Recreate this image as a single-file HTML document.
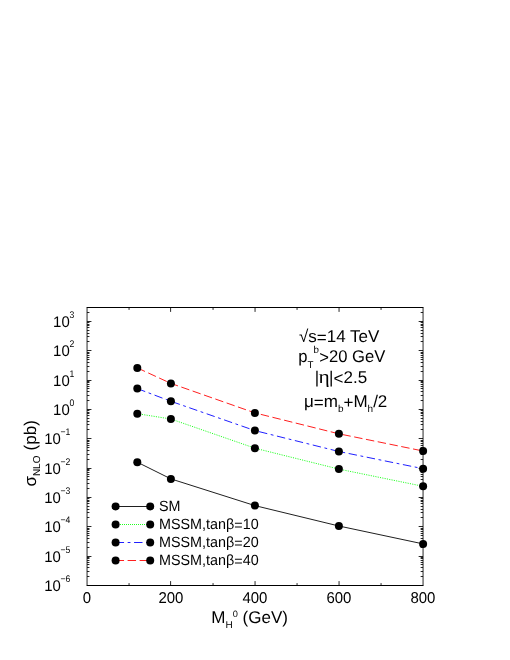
<!DOCTYPE html><html><head><meta charset="utf-8"><style>html,body{margin:0;padding:0;background:#fff}svg{display:block;will-change:transform}text{text-rendering:geometricPrecision;font-family:"Liberation Sans",sans-serif;fill:#000}</style></head><body>
<svg width="510" height="660" viewBox="0 0 510 660">
<rect width="510" height="660" fill="#fff"/>
<path d="M86.64999999999999 307.5H423.45M86.64999999999999 585.5H423.45" stroke="#000" stroke-width="1.05" fill="none"/>
<path d="M87.05 307.5V585.5M423.05 307.5V585.5" stroke="#000" stroke-width="0.85" fill="none"/>
<path d="M87.05 576.50h2.4M423.05 576.50h-2.4M87.05 571.50h2.4M423.05 571.50h-2.4M87.05 567.50h2.4M423.05 567.50h-2.4M87.05 564.50h2.4M423.05 564.50h-2.4M87.05 562.50h2.4M423.05 562.50h-2.4M87.05 560.50h2.4M423.05 560.50h-2.4M87.05 558.50h2.4M423.05 558.50h-2.4M87.05 557.50h2.4M423.05 557.50h-2.4M87.05 556.50h4.4M423.05 556.50h-4.4M87.05 547.50h2.4M423.05 547.50h-2.4M87.05 542.50h2.4M423.05 542.50h-2.4M87.05 538.50h2.4M423.05 538.50h-2.4M87.05 535.50h2.4M423.05 535.50h-2.4M87.05 533.50h2.4M423.05 533.50h-2.4M87.05 531.50h2.4M423.05 531.50h-2.4M87.05 529.50h2.4M423.05 529.50h-2.4M87.05 528.50h2.4M423.05 528.50h-2.4M87.05 526.50h4.4M423.05 526.50h-4.4M87.05 517.50h2.4M423.05 517.50h-2.4M87.05 512.50h2.4M423.05 512.50h-2.4M87.05 509.50h2.4M423.05 509.50h-2.4M87.05 506.50h2.4M423.05 506.50h-2.4M87.05 503.50h2.4M423.05 503.50h-2.4M87.05 501.50h2.4M423.05 501.50h-2.4M87.05 500.50h2.4M423.05 500.50h-2.4M87.05 498.50h2.4M423.05 498.50h-2.4M87.05 497.50h4.4M423.05 497.50h-4.4M87.05 488.50h2.4M423.05 488.50h-2.4M87.05 483.50h2.4M423.05 483.50h-2.4M87.05 479.50h2.4M423.05 479.50h-2.4M87.05 476.50h2.4M423.05 476.50h-2.4M87.05 474.50h2.4M423.05 474.50h-2.4M87.05 472.50h2.4M423.05 472.50h-2.4M87.05 470.50h2.4M423.05 470.50h-2.4M87.05 469.50h2.4M423.05 469.50h-2.4M87.05 468.50h4.4M423.05 468.50h-4.4M87.05 459.50h2.4M423.05 459.50h-2.4M87.05 454.50h2.4M423.05 454.50h-2.4M87.05 450.50h2.4M423.05 450.50h-2.4M87.05 447.50h2.4M423.05 447.50h-2.4M87.05 445.50h2.4M423.05 445.50h-2.4M87.05 443.50h2.4M423.05 443.50h-2.4M87.05 441.50h2.4M423.05 441.50h-2.4M87.05 440.50h2.4M423.05 440.50h-2.4M87.05 438.50h4.4M423.05 438.50h-4.4M87.05 429.50h2.4M423.05 429.50h-2.4M87.05 424.50h2.4M423.05 424.50h-2.4M87.05 421.50h2.4M423.05 421.50h-2.4M87.05 418.50h2.4M423.05 418.50h-2.4M87.05 415.50h2.4M423.05 415.50h-2.4M87.05 413.50h2.4M423.05 413.50h-2.4M87.05 412.50h2.4M423.05 412.50h-2.4M87.05 410.50h2.4M423.05 410.50h-2.4M87.05 409.50h4.4M423.05 409.50h-4.4M87.05 400.50h2.4M423.05 400.50h-2.4M87.05 395.50h2.4M423.05 395.50h-2.4M87.05 391.50h2.4M423.05 391.50h-2.4M87.05 388.50h2.4M423.05 388.50h-2.4M87.05 386.50h2.4M423.05 386.50h-2.4M87.05 384.50h2.4M423.05 384.50h-2.4M87.05 382.50h2.4M423.05 382.50h-2.4M87.05 381.50h2.4M423.05 381.50h-2.4M87.05 380.50h4.4M423.05 380.50h-4.4M87.05 371.50h2.4M423.05 371.50h-2.4M87.05 366.50h2.4M423.05 366.50h-2.4M87.05 362.50h2.4M423.05 362.50h-2.4M87.05 359.50h2.4M423.05 359.50h-2.4M87.05 357.50h2.4M423.05 357.50h-2.4M87.05 355.50h2.4M423.05 355.50h-2.4M87.05 353.50h2.4M423.05 353.50h-2.4M87.05 352.50h2.4M423.05 352.50h-2.4M87.05 350.50h4.4M423.05 350.50h-4.4M87.05 341.50h2.4M423.05 341.50h-2.4M87.05 336.50h2.4M423.05 336.50h-2.4M87.05 333.50h2.4M423.05 333.50h-2.4M87.05 330.50h2.4M423.05 330.50h-2.4M87.05 327.50h2.4M423.05 327.50h-2.4M87.05 325.50h2.4M423.05 325.50h-2.4M87.05 324.50h2.4M423.05 324.50h-2.4M87.05 322.50h2.4M423.05 322.50h-2.4M87.05 321.50h4.4M423.05 321.50h-4.4M87.05 312.50h2.4M423.05 312.50h-2.4M129.05 585.5v-2.4M129.05 307.5v2.4M170.60 585.5v-4.4M170.60 307.5v4.4M213.05 585.5v-2.4M213.05 307.5v2.4M255.05 585.5v-4.4M255.05 307.5v4.4M297.05 585.5v-2.4M297.05 307.5v2.4M339.05 585.5v-4.4M339.05 307.5v4.4M381.05 585.5v-2.4M381.05 307.5v2.4" stroke="#000" stroke-width="0.85" fill="none"/>
<text transform="translate(44.20,591.05) scale(0.97,1)" font-size="15.4" text-anchor="start">10</text>
<text transform="translate(60.51,582.05) scale(0.9,1)" font-size="9.6" text-anchor="start">−6</text>
<text transform="translate(44.20,561.72) scale(0.97,1)" font-size="15.4" text-anchor="start">10</text>
<text transform="translate(60.51,552.72) scale(0.9,1)" font-size="9.6" text-anchor="start">−5</text>
<text transform="translate(44.20,532.38) scale(0.97,1)" font-size="15.4" text-anchor="start">10</text>
<text transform="translate(60.51,523.38) scale(0.9,1)" font-size="9.6" text-anchor="start">−4</text>
<text transform="translate(44.20,503.05) scale(0.97,1)" font-size="15.4" text-anchor="start">10</text>
<text transform="translate(60.51,494.05) scale(0.9,1)" font-size="9.6" text-anchor="start">−3</text>
<text transform="translate(44.20,473.71) scale(0.97,1)" font-size="15.4" text-anchor="start">10</text>
<text transform="translate(60.51,464.71) scale(0.9,1)" font-size="9.6" text-anchor="start">−2</text>
<text transform="translate(44.20,444.38) scale(0.97,1)" font-size="15.4" text-anchor="start">10</text>
<text transform="translate(60.51,435.38) scale(0.9,1)" font-size="9.6" text-anchor="start">−1</text>
<text transform="translate(53.10,415.05) scale(0.97,1)" font-size="15.4" text-anchor="start">10</text>
<text transform="translate(69.41,406.05) scale(0.9,1)" font-size="9.6" text-anchor="start">0</text>
<text transform="translate(53.10,385.71) scale(0.97,1)" font-size="15.4" text-anchor="start">10</text>
<text transform="translate(69.41,376.71) scale(0.9,1)" font-size="9.6" text-anchor="start">1</text>
<text transform="translate(53.10,356.38) scale(0.97,1)" font-size="15.4" text-anchor="start">10</text>
<text transform="translate(69.41,347.38) scale(0.9,1)" font-size="9.6" text-anchor="start">2</text>
<text transform="translate(53.10,327.05) scale(0.97,1)" font-size="15.4" text-anchor="start">10</text>
<text transform="translate(69.41,318.05) scale(0.9,1)" font-size="9.6" text-anchor="start">3</text>
<text transform="translate(86.95,603.10) scale(0.955,1)" font-size="15.7" text-anchor="middle">0</text>
<text transform="translate(170.95,603.10) scale(0.955,1)" font-size="15.7" text-anchor="middle">200</text>
<text transform="translate(254.95,603.10) scale(0.955,1)" font-size="15.7" text-anchor="middle">400</text>
<text transform="translate(338.95,603.10) scale(0.955,1)" font-size="15.7" text-anchor="middle">600</text>
<text transform="translate(422.95,603.10) scale(0.955,1)" font-size="15.7" text-anchor="middle">800</text>
<text transform="translate(211.30,622.90) scale(1.0,1)" font-size="17" text-anchor="start">M<tspan font-size="10" dy="5">H</tspan><tspan font-size="9.2" dy="-11">0</tspan><tspan dy="6"> (GeV)</tspan></text>
<text transform="translate(35.7,486.6) rotate(-90)" font-size="17">σ<tspan font-size="10" dy="4.4">NLO</tspan><tspan dy="-4.4" dx="0.4"> (pb)</tspan></text>
<text transform="translate(299.00,342.20) scale(1.0,1)" font-size="17" text-anchor="start">√s<tspan dy="1.2">=</tspan><tspan dy="-1.2">14 TeV</tspan></text>
<text transform="translate(298.20,361.70) scale(0.977,1)" font-size="17" text-anchor="start">p<tspan font-size="10" dy="5.8">T</tspan><tspan font-size="10" dy="-15">b</tspan><tspan dy="10.4" dx="0.4">&gt;</tspan><tspan dy="-1.2">20 GeV</tspan></text>
<text transform="translate(314.80,383.10) scale(1.0,1)" font-size="17" text-anchor="start">|</text>
<text transform="translate(318.60,383.10) scale(1.11,1)" style="font-family:'Liberation Serif',serif" font-size="19.3" text-anchor="start">η</text>
<text transform="translate(329.10,383.10) scale(1.0,1)" font-size="17" text-anchor="start">|<tspan dy="1.2">&lt;</tspan><tspan dy="-1.2">2.5</tspan></text>
<text transform="translate(304.00,407.20) scale(1.0,1)" font-size="17" text-anchor="start">μ<tspan dy="1.2">=</tspan><tspan dy="-1.2">m</tspan><tspan font-size="10" dy="5">b</tspan><tspan dy="-3.8">+</tspan><tspan dy="-1.2">M</tspan><tspan font-size="10" dy="5">h</tspan><tspan dy="-5">/2</tspan></text>
<polyline points="137.3,462.2 170.9,478.9 254.9,505.6 338.9,526.0 423.1,543.9" fill="none" stroke="#000" stroke-width="0.88"/>
 <line x1="115.6" y1="506.5" x2="150.2" y2="506.5" stroke="#000" stroke-width="0.88"/>
<polyline points="137.3,413.7 170.9,419.0 254.9,448.2 338.9,469.1 423.1,486.3" fill="none" stroke="#0f0" stroke-width="0.88" stroke-dasharray="1.1 1.25"/>
 <line x1="115.6" y1="524.5" x2="150.2" y2="524.5" stroke="#0f0" stroke-width="0.88" stroke-dasharray="1 1.03" shape-rendering="crispEdges"/>
<polyline points="137.3,388.6 170.9,401.3 254.9,430.6 338.9,451.5 423.1,468.7" fill="none" stroke="#00f" stroke-width="0.88" stroke-dasharray="8.45 3.6 2.8 3.6"/>
 <line x1="115.6" y1="542.5" x2="150.2" y2="542.5" stroke="#00f" stroke-width="0.88" stroke-dasharray="8.45 3.6 2.8 3.6"/>
<polyline points="137.3,367.9 170.9,383.4 254.9,412.9 338.9,433.8 423.1,451.0" fill="none" stroke="#f00" stroke-width="0.88" stroke-dasharray="8.45 3.56"/>
 <line x1="115.6" y1="560.5" x2="150.2" y2="560.5" stroke="#f00" stroke-width="0.88" stroke-dasharray="8.45 3.56"/>
<circle cx="137.3" cy="462.2" r="4"/>
<circle cx="170.9" cy="478.9" r="4"/>
<circle cx="254.9" cy="505.6" r="4"/>
<circle cx="338.9" cy="526.0" r="4"/>
<circle cx="423.1" cy="543.9" r="4"/>
<circle cx="115.6" cy="506.4" r="4"/><circle cx="150.2" cy="506.4" r="4"/>
<circle cx="137.3" cy="413.7" r="4"/>
<circle cx="170.9" cy="419.0" r="4"/>
<circle cx="254.9" cy="448.2" r="4"/>
<circle cx="338.9" cy="469.1" r="4"/>
<circle cx="423.1" cy="486.3" r="4"/>
<circle cx="115.6" cy="524.4" r="4"/><circle cx="150.2" cy="524.4" r="4"/>
<circle cx="137.3" cy="388.6" r="4"/>
<circle cx="170.9" cy="401.3" r="4"/>
<circle cx="254.9" cy="430.6" r="4"/>
<circle cx="338.9" cy="451.5" r="4"/>
<circle cx="423.1" cy="468.7" r="4"/>
<circle cx="115.6" cy="542.4" r="4"/><circle cx="150.2" cy="542.4" r="4"/>
<circle cx="137.3" cy="367.9" r="4"/>
<circle cx="170.9" cy="383.4" r="4"/>
<circle cx="254.9" cy="412.9" r="4"/>
<circle cx="338.9" cy="433.8" r="4"/>
<circle cx="423.1" cy="451.0" r="4"/>
<circle cx="115.6" cy="560.4" r="4"/><circle cx="150.2" cy="560.4" r="4"/>
<text transform="translate(159.00,510.80) scale(0.97,1)" font-size="14.8" text-anchor="start">SM</text>
<text transform="translate(159.00,528.80) scale(0.97,1)" font-size="14.8" text-anchor="start">MSSM,tanβ<tspan dy="1">=</tspan><tspan dy="-1">10</tspan></text>
<text transform="translate(159.00,546.80) scale(0.97,1)" font-size="14.8" text-anchor="start">MSSM,tanβ<tspan dy="1">=</tspan><tspan dy="-1">20</tspan></text>
<text transform="translate(159.00,564.80) scale(0.97,1)" font-size="14.8" text-anchor="start">MSSM,tanβ<tspan dy="1">=</tspan><tspan dy="-1">40</tspan></text>
</svg></body></html>
